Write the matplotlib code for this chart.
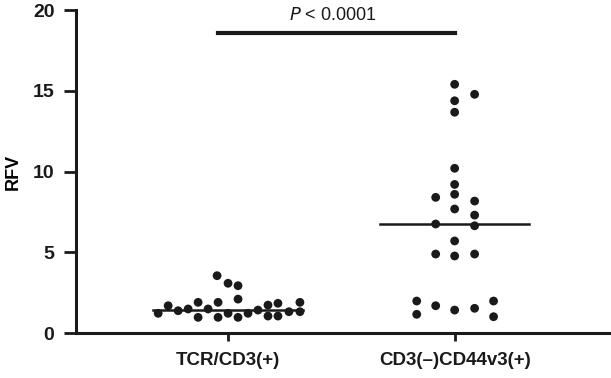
import matplotlib
matplotlib.use("Agg")
import matplotlib.pyplot as plt
import numpy as np

plt.rcParams['font.family'] = ['Liberation Sans', 'DejaVu Sans']

categories = ["TCR/CD3(+)", "CD3(\u2013)CD44v3(+)"]

# group 1 values and horizontal scatter offsets (in pixels of category spacing)
g1_values = [3.55, 3.08, 2.93, 2.10, 1.90, 1.90, 1.69, 1.22, 1.38, 1.49, 1.49, 0.97,
             0.97, 1.22, 0.97, 1.22, 1.42, 1.73, 1.05, 1.84, 1.05, 1.32, 1.90, 1.32]
g1_offsets = [-11, 0, 10, 10, -10, -30, -60, -70, -50, -40, -20, -30,
              -10, 0, 10, 20, 30, 40, 40, 50, 50, 61, 72, 72]

g2_values = [15.40, 14.78, 14.38, 13.67, 10.20, 9.20, 8.59, 8.40, 8.17, 7.68, 7.30, 6.75,
             6.64, 5.70, 4.89, 4.77, 4.89, 1.98, 1.16, 1.69, 1.42, 1.53, 1.98, 1.01]
g2_offsets = [0, 20, 0, 0, 0, 0, 0, -19, 20, 0, 20, -19,
              20, 0, -19, 0, 20, -38, -38, -19, 0, 20, 39, 39]

medians = [1.42, 6.75]
yticks = [0, 5, 10, 15, 20]
p_text = "$\\it{P}$ < 0.0001"

fig = plt.figure(figsize=(6.11, 3.78), dpi=100)
ax = fig.add_axes([0.1244, 0.119, 0.8756, 0.8545])

px_per_unit = 227.0
for i, (vals, offs) in enumerate([(g1_values, g1_offsets), (g2_values, g2_offsets)]):
    xs = (i + 1) + np.array(offs) / px_per_unit
    ax.scatter(xs, vals, s=40, color='#1a1a1a', edgecolors='none', zorder=3)
    ax.plot([i + 1 - 0.33, i + 1 + 0.33], [medians[i]] * 2, color='#1a1a1a', lw=1.8, zorder=2)

ax.set_xlim(0.329, 2.69)
ax.set_ylim(0, 20)
ax.set_xticks([1, 2])
ax.set_xticklabels(categories, fontsize=13.5, fontweight='bold')
ax.set_yticks(yticks)
ax.set_yticklabels([str(t) for t in yticks], fontsize=14, fontweight='bold')
ax.set_ylabel("RFV", fontsize=13, fontweight='bold', labelpad=8)

for s in ['top', 'right']:
    ax.spines[s].set_visible(False)
for s in ['left', 'bottom']:
    ax.spines[s].set_linewidth(2.2)
    ax.spines[s].set_color('#1a1a1a')
ax.tick_params(axis='y', length=8.5, width=2.0, pad=7, colors='#1a1a1a')
ax.tick_params(axis='x', length=6, width=2.0, pad=8, colors='#1a1a1a')

# significance bar
bar_y = 18.6
ax.plot([1 - 0.045, 2], [bar_y, bar_y], color='#1a1a1a', lw=3, clip_on=False)
ax.text(1.46, bar_y + 0.55, p_text, ha='center', va='bottom', fontsize=13, color='#1a1a1a')

fig.savefig("out.png", dpi=100)
